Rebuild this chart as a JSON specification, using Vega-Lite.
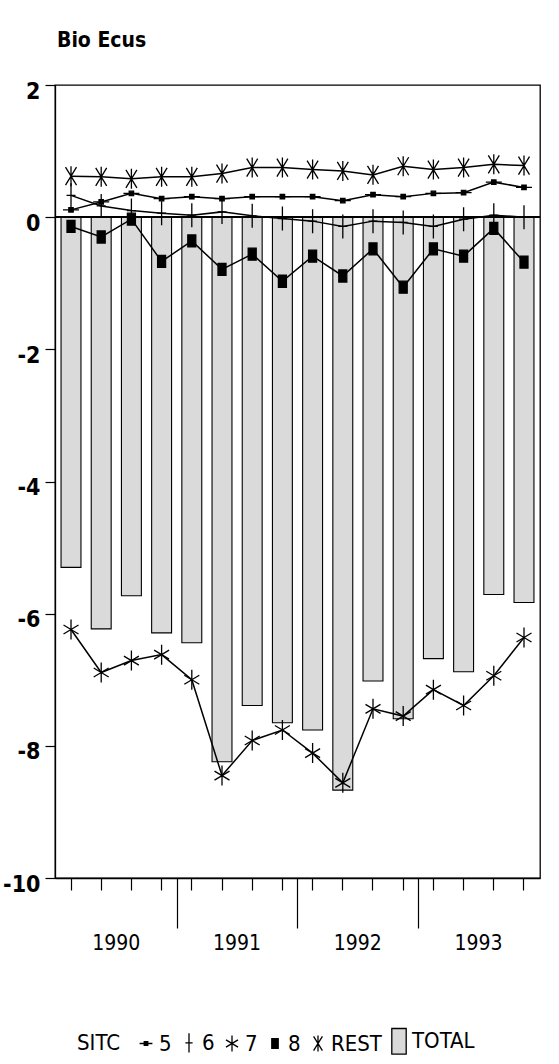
{
  "$schema": "https://vega.github.io/schema/vega-lite/v6.json",
  "width": 485,
  "height": 793,
  "autosize": "none",
  "padding": {"left": 55, "top": 85, "right": 19, "bottom": 186},
  "background": "white",
  "title": {"text": "Bio Ecus", "anchor": "start", "frame": "group", "fontSize": 21, "fontWeight": "bold", "font": "Liberation Sans Narrow, DejaVu Sans Condensed, sans-serif", "offset": 29, "color": "black", "dx": 2},
  "config": {
    "font": "Liberation Sans Narrow, DejaVu Sans Condensed, sans-serif",
    "view": {"stroke": "black", "strokeWidth": 1.3},
    "axis": {"grid": false, "domainColor": "black", "tickColor": "black", "labelColor": "black", "labelFont": "Liberation Sans Narrow, DejaVu Sans Condensed, sans-serif", "tickWidth": 1.2, "domainWidth": 1.3},
    "legend": {"labelFont": "Liberation Sans Narrow, DejaVu Sans Condensed, sans-serif", "titleFont": "Liberation Sans Narrow, DejaVu Sans Condensed, sans-serif"}
  },
  "data": {"values": [
    {"period": "1990Q1", "TOTAL": -5.30, "5": 0.11, "6": 0.33, "7": -6.24, "8": -0.14, "REST": 0.62},
    {"period": "1990Q2", "TOTAL": -6.23, "5": 0.23, "6": 0.17, "7": -6.89, "8": -0.30, "REST": 0.61},
    {"period": "1990Q3", "TOTAL": -5.73, "5": 0.36, "6": 0.10, "7": -6.71, "8": -0.03, "REST": 0.58},
    {"period": "1990Q4", "TOTAL": -6.29, "5": 0.28, "6": 0.06, "7": -6.62, "8": -0.67, "REST": 0.61},
    {"period": "1991Q1", "TOTAL": -6.44, "5": 0.31, "6": 0.03, "7": -7.00, "8": -0.36, "REST": 0.61},
    {"period": "1991Q2", "TOTAL": -8.24, "5": 0.28, "6": 0.08, "7": -8.45, "8": -0.79, "REST": 0.66},
    {"period": "1991Q3", "TOTAL": -7.39, "5": 0.31, "6": 0.02, "7": -7.92, "8": -0.56, "REST": 0.75},
    {"period": "1991Q4", "TOTAL": -7.65, "5": 0.31, "6": -0.02, "7": -7.76, "8": -0.97, "REST": 0.75},
    {"period": "1992Q1", "TOTAL": -7.76, "5": 0.31, "6": -0.06, "7": -8.11, "8": -0.59, "REST": 0.72},
    {"period": "1992Q2", "TOTAL": -8.67, "5": 0.25, "6": -0.14, "7": -8.56, "8": -0.89, "REST": 0.70},
    {"period": "1992Q3", "TOTAL": -7.02, "5": 0.34, "6": -0.06, "7": -7.44, "8": -0.48, "REST": 0.64},
    {"period": "1992Q4", "TOTAL": -7.59, "5": 0.31, "6": -0.08, "7": -7.55, "8": -1.06, "REST": 0.77},
    {"period": "1993Q1", "TOTAL": -6.68, "5": 0.36, "6": -0.14, "7": -7.15, "8": -0.48, "REST": 0.72},
    {"period": "1993Q2", "TOTAL": -6.88, "5": 0.37, "6": -0.03, "7": -7.39, "8": -0.59, "REST": 0.75},
    {"period": "1993Q3", "TOTAL": -5.71, "5": 0.53, "6": 0.03, "7": -6.94, "8": -0.17, "REST": 0.80},
    {"period": "1993Q4", "TOTAL": -5.83, "5": 0.45, "6": 0.00, "7": -6.36, "8": -0.68, "REST": 0.78}
  ]},
  "layer": [
    {
      "transform": [{"fold": ["TOTAL"], "as": ["series", "value"]}],
      "mark": {"type": "bar", "stroke": "black", "strokeWidth": 1.1},
      "encoding": {
        "x": {"field": "period", "type": "ordinal", "sort": null,
              "scale": {"paddingInner": 0.34, "paddingOuter": 0.2},
              "axis": {"title": null, "orient": "bottom", "tickSize": 12, "labelExpr": "slice(datum.value, 4) === 'Q2' ? slice(datum.value, 0, 4) : ''", "labelOffset": 15, "labelPadding": 42, "labelFontSize": 21, "labelAngle": 0, "labelBaseline": "top", "labelOverlap": false}},
        "y": {"field": "value", "type": "quantitative", "scale": {"domain": [-10, 2], "nice": false, "zero": false},
              "axis": {"title": null, "values": [-10, -8, -6, -4, -2, 0, 2], "tickSize": 10, "labelFontSize": 23, "labelPadding": 5, "labelOffset": 6, "labelFontWeight": "bold", "labelExpr": "datum.value < 0 ? '-' + abs(datum.value) : '' + datum.value"}},
        "fill": {"field": "series", "type": "nominal",
                 "scale": {"domain": ["5", "6", "7", "8", "REST", "TOTAL"], "range": ["black", "black", "black", "black", "black", "#dadada"]},
                 "legend": {"title": "SITC", "orient": "none", "legendX": 22, "legendY": 945, "direction": "horizontal", "titleOrient": "left", "titleFontSize": 22, "titleFontWeight": "normal", "titleColor": "black", "labelFontSize": 22, "labelColor": "black", "symbolSize": 256, "symbolStrokeColor": "black", "symbolStrokeWidth": 1.3, "columnPadding": 6, "labelOffset": 2, "titlePadding": 14}}
      }
    },
    {
      "mark": {"type": "rule", "color": "black", "strokeWidth": 1.3},
      "encoding": {"y": {"datum": 0, "type": "quantitative", "axis": {"title": null}}}
    },
    {
      "transform": [{"fold": ["5", "6", "7", "8", "REST"], "as": ["series", "value"]}],
      "mark": {"type": "line", "color": "black", "strokeWidth": 1.5},
      "encoding": {
        "x": {"field": "period", "type": "ordinal", "sort": null,
              "axis": {"title": null, "orient": "bottom", "values": ["1990Q4", "1991Q4", "1992Q4"], "tickOffset": 15, "tickSize": 50, "labels": false, "domain": false}},
        "y": {"field": "value", "type": "quantitative", "axis": {"title": null}},
        "detail": {"field": "series", "type": "nominal"}
      }
    },
    {
      "transform": [{"fold": ["5", "6", "7", "8", "REST"], "as": ["series", "value"]}],
      "mark": {"type": "point", "filled": true, "stroke": "black", "strokeWidth": 1.3, "opacity": 1, "size": 400},
      "encoding": {
        "x": {"field": "period", "type": "ordinal", "sort": null, "axis": null},
        "y": {"field": "value", "type": "quantitative", "axis": {"title": null}},
        "shape": {"field": "series", "type": "nominal",
                  "scale": {"domain": ["5", "6", "7", "8", "REST", "TOTAL"],
                            "range": ["M-0.8,0L0.8,0M-0.22,-0.22L0.22,-0.22L0.22,0.22L-0.22,0.22Z", "M-0.45,0L0.45,0M0,-1.2L0,1.2", "M0,-1L0,1M-0.75,-0.45L0.75,0.45M-0.75,0.45L0.75,-0.45", "M-0.4,-0.6L0.4,-0.6L0.4,0.6L-0.4,0.6Z", "M-0.55,-0.9L0.55,0.9M-0.55,0.9L0.55,-0.9M0,-1L0,1", "M-0.9,-1.6L0.9,-1.6L0.9,1.6L-0.9,1.6Z"]},
                  "legend": {"title": "SITC", "orient": "none", "legendX": 22, "legendY": 945, "direction": "horizontal", "titleOrient": "left", "titleFontSize": 22, "titleFontWeight": "normal", "titleColor": "black", "labelFontSize": 22, "labelColor": "black", "symbolSize": 256, "symbolStrokeColor": "black", "symbolStrokeWidth": 1.3, "columnPadding": 6, "labelOffset": 2, "titlePadding": 14}},
        "fill": {"field": "series", "type": "nominal"}
      }
    }
  ],
  "resolve": {"axis": {"x": "independent"}}
}
